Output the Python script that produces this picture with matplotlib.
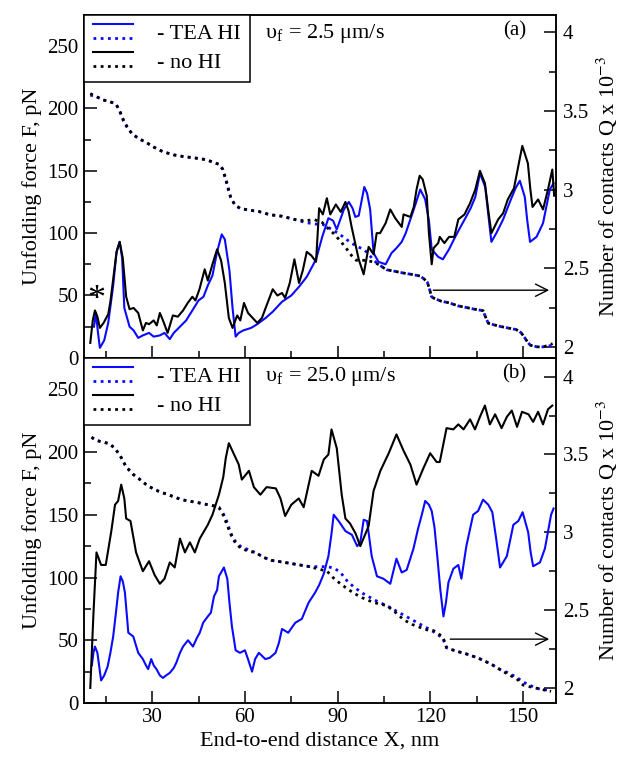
import numpy as np
import matplotlib.pyplot as plt
from matplotlib.ticker import MultipleLocator, FormatStrFormatter
from matplotlib.legend_handler import HandlerBase
from matplotlib.lines import Line2D

plt.rcParams['font.family'] = ['Liberation Serif', 'DejaVu Serif']
plt.rcParams['mathtext.fontset'] = 'stix'

# ---- panel (a), v = 2.5 um/s : force (x, F)
a_tea = np.array([
    (11.2, 25), (11.8, 36), (12.5, 20), (13.1, 8), (14.5, 14), (15.8, 28), (17.4, 58), (18.5, 85),
    (19.5, 93), (20.3, 80), (21, 40), (22.7, 25), (24, 22), (25.5, 16), (27, 18), (29, 20), (30.5, 17),
    (32.5, 18), (34, 20), (35.7, 15), (37, 20), (39, 25), (41, 30), (43, 38), (45, 46), (46.6, 49),
    (48, 58), (49.5, 66), (51, 85), (52.5, 99), (53.5, 95), (55, 70), (56, 40), (57, 17), (58, 20),
    (59.5, 22), (62, 24), (64, 27), (66.7, 32), (69, 37), (72, 45), (75, 50), (77.5, 57), (80, 65),
    (83, 79), (85, 97), (87, 112), (88.5, 110), (89.7, 103), (91, 112), (92, 119), (93.6, 125),
    (94.8, 120), (95.7, 113), (96.8, 114), (98.6, 137), (99.5, 132), (100.5, 119), (101.6, 84),
    (103.2, 77), (105.5, 75), (107.4, 84), (109, 88), (110.7, 93), (112, 100), (113.5, 111), (115, 122),
    (116.7, 135), (118.3, 127), (119.5, 110), (120.4, 87), (122.5, 81), (124, 79), (126, 87), (128, 97),
    (129.5, 104), (131.5, 113), (133, 120), (134.5, 129), (136, 148), (137.7, 137), (138.7, 115),
    (139.7, 93), (141.3, 100), (143.5, 111), (146, 127), (147.5, 136), (148.9, 142), (150.5, 129),
    (151.3, 110), (152.2, 93), (154.3, 97), (156.4, 108), (158.6, 135), (159.8, 140)]).T
a_nohi = np.array([
    (10, 12), (10.8, 30), (11.5, 38), (12.3, 33), (13.1, 24), (14.3, 28), (15.8, 35), (16.5, 45),
    (17.4, 63), (18.5, 85), (19.5, 93), (20.5, 80), (21.6, 49), (22.7, 39), (24, 40), (25.5, 36),
    (27, 22), (28, 28), (29, 27), (30.5, 30), (31.5, 26), (32.5, 36), (33.5, 30), (35, 20), (36.7, 34),
    (38.3, 33), (40, 38), (41.5, 44), (43, 49), (44, 46), (45.3, 55), (47, 71), (48, 62), (49.5, 75),
    (51, 87), (52.3, 78), (53.5, 60), (54.8, 32), (56, 24), (57.5, 34), (58.5, 30), (59.7, 44),
    (61, 36), (62.5, 32), (64, 28), (65.5, 32), (67, 42), (69, 55), (70.5, 50), (72, 52), (73, 48),
    (74.5, 60), (76, 79), (77.5, 60), (78.7, 70), (80, 85), (81.5, 82), (83, 77), (84, 120),
    (85.2, 115), (86.5, 128), (87.6, 115), (89.4, 123), (91, 117), (92.5, 125), (93.5, 118),
    (94.5, 105), (96.8, 79), (98.4, 67), (100, 89), (101.6, 83), (102.6, 100), (103.7, 100),
    (105.5, 108), (107, 119), (108.6, 112), (110.7, 105), (111.3, 115), (113.5, 113), (114.6, 121),
    (115.5, 135), (116.5, 146), (117.5, 143), (118.8, 130), (119.5, 100), (120.4, 75), (121, 88),
    (122.5, 92), (123, 97), (124.5, 92), (126, 97), (127.7, 97), (129, 111), (131, 115), (132.8, 124),
    (134.5, 135), (136, 150), (137.6, 140), (138.7, 118), (139.7, 100), (141.9, 111), (143.5, 116),
    (145, 127), (147, 136), (148.5, 155), (149.7, 170), (151.5, 156), (152.3, 135), (153, 121),
    (154.8, 127), (156.4, 119), (158, 135), (159.4, 151), (160, 130)]).T
# ---- panel (a) : contacts (x, Q x 10^-3)
a_q_tea = np.array([
    (10, 3.60), (12, 3.59), (14, 3.57), (16, 3.56), (17.5, 3.55), (18.4, 3.54), (19.5, 3.50),
    (21, 3.42), (22.5, 3.38), (23.7, 3.35), (26, 3.32), (28, 3.30), (30.5, 3.27), (33.5, 3.24),
    (37, 3.22), (40, 3.21), (44, 3.20), (47.4, 3.19), (51.6, 3.16), (52.8, 3.13), (53.8, 3.06),
    (54.6, 3.00), (55.4, 2.95), (56.8, 2.90), (58.5, 2.88), (61, 2.87), (64.5, 2.86), (68, 2.84),
    (72, 2.83), (76, 2.81), (79.6, 2.79), (83, 2.78), (85, 2.78), (88.7, 2.74), (91, 2.71), (93, 2.68),
    (96, 2.64), (98.4, 2.62), (100, 2.59), (101.6, 2.55), (103.5, 2.52), (105.8, 2.49), (108.5, 2.48),
    (111, 2.47), (114, 2.46), (116.7, 2.45), (118, 2.43), (119, 2.41), (119.8, 2.36), (120.3, 2.32),
    (121, 2.31), (123.5, 2.29), (126, 2.28), (129, 2.26), (131.6, 2.25), (134, 2.24), (137, 2.23),
    (137.8, 2.19), (138.7, 2.15), (140.5, 2.14), (142.5, 2.13), (145, 2.12), (147.7, 2.11),
    (149.3, 2.09), (150.4, 2.06), (151.4, 2.03), (152.3, 2.01), (154.5, 2.00), (156.6, 2.00),
    (158, 2.005), (159.5, 2.01)]).T
a_q_nohi = np.array([
    (10, 3.61), (12, 3.59), (14, 3.57), (16, 3.56), (17.5, 3.55), (18.4, 3.54), (19.5, 3.50),
    (21, 3.43), (22.5, 3.38), (23.7, 3.35), (26, 3.32), (28, 3.30), (30.5, 3.27), (33.5, 3.24),
    (37, 3.22), (40, 3.21), (44, 3.20), (47.4, 3.19), (51.6, 3.16), (52.8, 3.13), (53.8, 3.07),
    (54.6, 3.01), (55.4, 2.95), (56.8, 2.90), (58.5, 2.88), (61, 2.87), (64.5, 2.86), (68, 2.84),
    (72, 2.83), (76, 2.81), (79.6, 2.80), (82.3, 2.81), (85, 2.79), (86.5, 2.76), (88.7, 2.72),
    (91, 2.67), (93, 2.62), (94.5, 2.58), (96, 2.55), (98.5, 2.55), (101.6, 2.54), (103.5, 2.52),
    (105.8, 2.49), (108.5, 2.48), (111, 2.47), (114, 2.46), (116.7, 2.45), (118, 2.43), (119, 2.41),
    (119.8, 2.36), (120.3, 2.32), (121, 2.31), (123.5, 2.29), (126, 2.28), (129, 2.26), (131.6, 2.25),
    (134, 2.24), (137, 2.23), (137.8, 2.19), (138.7, 2.15), (140.5, 2.14), (142.5, 2.13), (145, 2.12),
    (147.7, 2.11), (149.3, 2.09), (150.4, 2.06), (151.4, 2.03), (152.3, 2.01), (154.5, 2.00),
    (156.6, 2.00), (158, 2.01), (159.5, 2.02)]).T

# ---- panel (b), v = 25.0 um/s : force (x, F)
b_tea = np.array([
    (10.5, 30), (11, 40), (11.5, 45), (12.3, 40), (13.5, 18), (14.5, 22), (15.6, 29), (16.5, 40),
    (17.4, 53), (18.2, 70), (19, 88), (19.8, 101), (20.5, 97), (21.2, 88), (22.3, 56), (23.9, 53),
    (25.5, 40), (27, 35), (28, 30), (28.7, 27), (29.7, 35), (30.5, 30), (31.4, 27), (32.5, 22),
    (33.5, 20), (34.5, 22), (35.7, 24), (37, 28), (37.8, 32), (39, 40), (40, 45), (41.6, 50),
    (43.2, 45), (44.5, 52), (45.4, 56), (46.5, 64), (48, 69), (49, 72), (50, 85), (51, 90),
    (51.6, 101), (53.2, 108), (54.3, 99), (55, 80), (55.8, 61), (57, 42), (58.4, 40), (60, 42),
    (61, 35), (62.3, 25), (63.3, 35), (64.5, 40), (66.6, 35), (68, 36), (69.9, 40), (71, 48),
    (72, 59), (74, 56), (76.3, 64), (78.4, 67), (80.6, 80), (82.7, 88), (84, 94), (85.5, 103),
    (87, 117), (88, 135), (88.7, 150), (90.3, 145), (92.5, 137), (94.6, 134), (96.3, 125),
    (97.3, 128), (98.4, 146), (99.5, 145), (101, 117), (102.7, 101), (104.8, 99), (107, 95),
    (109, 115), (110.7, 104), (112.3, 106), (114.5, 123), (116, 139), (117.2, 150), (118.3, 161),
    (119.5, 158), (120.4, 153), (121.3, 140), (122.2, 117), (123.2, 90), (124.2, 69), (125, 80),
    (125.8, 96), (127.4, 107), (129, 110), (130, 99), (131.6, 125), (133.8, 150), (135.4, 153),
    (137, 162), (138.7, 158), (140, 152), (141.3, 130), (142.5, 108), (144.7, 117), (146.8, 142),
    (148.4, 145), (149.8, 152), (151.6, 136), (152.4, 120), (153.2, 109), (155.4, 112), (157, 123),
    (159, 150), (159.8, 155)]).T
b_nohi = np.array([
    (10, 12), (11, 70), (12, 120), (13.5, 110), (15, 110), (16.8, 137), (18, 158), (19, 161),
    (20, 174), (21, 163), (21.6, 147), (23, 145), (24.8, 120), (27, 105), (29, 113), (30.8, 102),
    (32.5, 95), (34, 99), (35.7, 112), (37.3, 108), (39, 131), (40.6, 120), (42.2, 128), (43.8, 120),
    (45.4, 131), (48, 142), (49.5, 150), (51.6, 166), (53, 180), (53.8, 195), (54.8, 207),
    (56.5, 198), (58, 190), (59, 178), (61.3, 185), (62.9, 172), (65, 166), (67, 172), (70, 171),
    (71.5, 163), (73, 149), (75, 158), (77.4, 163), (79, 156), (81.6, 185), (83.8, 181), (85.5, 194),
    (87, 198), (88, 218), (89.7, 203), (91.3, 166), (92.5, 147), (94, 143), (95.8, 135), (97.3, 125),
    (99, 135), (100, 141), (101.6, 169), (103.8, 185), (106.5, 199), (109, 214), (111.3, 201),
    (113.5, 190), (115.5, 174), (117.7, 187), (119.9, 199), (122, 192), (123, 192), (125.2, 219),
    (127.4, 218), (129, 222), (130.7, 218), (132.8, 226), (134.4, 218), (136, 228), (137.6, 237),
    (139.2, 222), (140.9, 230), (143, 219), (144.7, 228), (146.3, 233), (148, 220), (149.6, 232),
    (151.7, 230), (153.2, 224), (154.8, 232), (156.4, 222), (158, 234), (159.4, 237)]).T
# ---- panel (b) : contacts (x, Q x 10^-3)
b_q_tea = np.array([
    (10.4, 3.61), (12, 3.59), (14, 3.58), (16, 3.57), (18, 3.54), (20, 3.48), (21.6, 3.42),
    (24, 3.37), (26, 3.34), (28.5, 3.30), (31.3, 3.27), (34, 3.25), (36.8, 3.23), (39.5, 3.21),
    (42.2, 3.20), (45, 3.19), (47.4, 3.18), (50, 3.17), (51.6, 3.16), (53, 3.12), (53.8, 3.09),
    (55, 3.02), (55.8, 2.98), (57, 2.94), (58.6, 2.91), (61, 2.89), (63.5, 2.87), (66, 2.84),
    (68.7, 2.82), (72, 2.81), (75, 2.80), (78, 2.79), (81, 2.78), (84, 2.78), (86.6, 2.78), (89, 2.77),
    (91, 2.74), (93, 2.69), (95.2, 2.65), (98, 2.61), (101.6, 2.57), (103.5, 2.55), (105.9, 2.53),
    (108.5, 2.50), (111.3, 2.47), (114, 2.44), (116.7, 2.41), (119.5, 2.38), (122, 2.35), (124, 2.32),
    (125.2, 2.26), (128, 2.24), (131.6, 2.22), (134.5, 2.20), (137, 2.18), (140, 2.15), (142.5, 2.12),
    (145, 2.10), (147.9, 2.07), (150, 2.04), (152, 2.02), (154.3, 2.00), (156.5, 1.99), (159, 1.99)]).T
b_q_nohi = np.array([
    (10.4, 3.61), (12, 3.59), (14, 3.58), (16, 3.57), (18, 3.54), (20, 3.48), (21.6, 3.42),
    (24, 3.37), (26, 3.34), (28.5, 3.30), (31.3, 3.27), (34, 3.25), (36.8, 3.23), (39.5, 3.21),
    (42.2, 3.20), (45, 3.19), (47.4, 3.18), (50, 3.17), (51.6, 3.16), (53, 3.11), (53.8, 3.07),
    (55, 3.01), (55.8, 2.97), (57, 2.93), (58.6, 2.90), (61, 2.88), (63.5, 2.87), (66, 2.84),
    (68.7, 2.82), (72, 2.81), (75, 2.80), (78, 2.79), (81, 2.78), (84.8, 2.76), (86.6, 2.75),
    (88.5, 2.71), (90.9, 2.67), (93, 2.64), (95.2, 2.61), (98, 2.58), (101.6, 2.55), (105.9, 2.53),
    (108.5, 2.49), (111.3, 2.44), (114, 2.41), (116.7, 2.39), (119.5, 2.37), (121, 2.37),
    (122.5, 2.35), (124, 2.33), (125.2, 2.26), (128, 2.24), (131.6, 2.22), (134.5, 2.20), (137, 2.18),
    (140, 2.15), (142.5, 2.12), (145, 2.09), (147.9, 2.06), (150, 2.02), (152, 2.01), (154.3, 2.00),
    (156.5, 1.99), (159, 1.98)]).T

speeds = ['2.5', '25.0']
panel_tags = ['(a)', '(b)']
arrow_start = [(120.0, 2.36), (125.5, 2.315)]

BLUE = '#0a0aff'
DOT = (0, (1, 1.6))


class StackedLines(HandlerBase):
    def create_artists(self, legend, orig_handle, xdescent, ydescent,
                       width, height, fontsize, trans):
        c = orig_handle.get_color()
        top = Line2D([-xdescent, width - xdescent], [height * 1.0] * 2, color=c, lw=1.5)
        bot = Line2D([-xdescent, width - xdescent], [height * 0.1] * 2, color=c, lw=2, ls=DOT)
        top.set_transform(trans)
        bot.set_transform(trans)
        return [top, bot]


fig = plt.figure(figsize=(6.23, 7.63), dpi=100)
axes = [fig.add_axes([0.135, 0.531, 0.757, 0.4495]),
        fig.add_axes([0.135, 0.0786, 0.757, 0.4524])]
data = [(a_tea, a_nohi, a_q_tea, a_q_nohi), (b_tea, b_nohi, b_q_tea, b_q_nohi)]
qlims = [(1.93, 4.11), (1.905, 4.12)]

for i, ax in enumerate(axes):
    tea, nohi, qtea, qnohi = data[i]
    axr = ax.twinx()
    axr.plot(qtea[0], qtea[1], color=BLUE, lw=2, ls=DOT)
    axr.plot(qnohi[0], qnohi[1], color='black', lw=2, ls=DOT)
    h1, = ax.plot(tea[0], tea[1], color=BLUE, lw=1.5)
    h2, = ax.plot(nohi[0], nohi[1], color='black', lw=1.5)
    ax.set_zorder(axr.get_zorder() + 1)
    ax.patch.set_visible(False)

    ax.set_xlim(8, 160.5)
    ax.set_ylim(0, 275)
    axr.set_ylim(*qlims[i])
    ax.xaxis.set_major_locator(MultipleLocator(30))
    ax.xaxis.set_minor_locator(MultipleLocator(15))
    ax.yaxis.set_major_locator(MultipleLocator(50))
    ax.yaxis.set_minor_locator(MultipleLocator(25))
    axr.yaxis.set_major_locator(MultipleLocator(0.5))
    axr.yaxis.set_minor_locator(MultipleLocator(0.25))
    axr.yaxis.set_major_formatter(FormatStrFormatter('%g'))
    for a in (ax, axr):
        a.tick_params(which='both', direction='in', labelsize=15, width=1.1)
        a.tick_params(which='major', length=9)
        a.tick_params(which='minor', length=5)
        for s in a.spines.values():
            s.set_linewidth(1.1)
    ax.tick_params(axis='y', pad=4)
    axr.tick_params(axis='y', pad=5)

    ax.set_ylabel('Unfolding force F, pN', fontsize=16, labelpad=4)
    axr.set_ylabel(r'Number of contacts Q x 10$^{-3}$', fontsize=16, labelpad=4)

    leg = ax.legend([h1, h2], ['- TEA HI', '- no HI'], loc='upper left', borderaxespad=0,
                    fancybox=False, edgecolor='black', framealpha=1, fontsize=16,
                    handler_map={Line2D: StackedLines()}, handlelength=1.8,
                    handletextpad=1.1, labelspacing=0.35, borderpad=0.4)
    leg.get_frame().set_linewidth(1.1)

    ax.text(0.383, 0.945, 'υ$_\\mathregular{f}$ = ' + speeds[i] + ' μm/s',
            transform=ax.transAxes, fontsize=16, va='center', ha='left')
    ax.text(0.913, 0.953, panel_tags[i], transform=ax.transAxes, fontsize=15,
            va='center', ha='center')
    x0, y0 = arrow_start[i]
    axr.annotate('', xy=(159.3, y0), xytext=(x0, y0),
                 arrowprops=dict(arrowstyle='->', color='black', lw=1.0, mutation_scale=22))

axes[0].tick_params(axis='x', labelbottom=False)
axes[0].text(12, 46, '*', fontsize=26, ha='center', va='center')
axes[1].set_xlabel('End-to-end distance X, nm', fontsize=16, labelpad=3)

fig.savefig('out.png', dpi=100)
